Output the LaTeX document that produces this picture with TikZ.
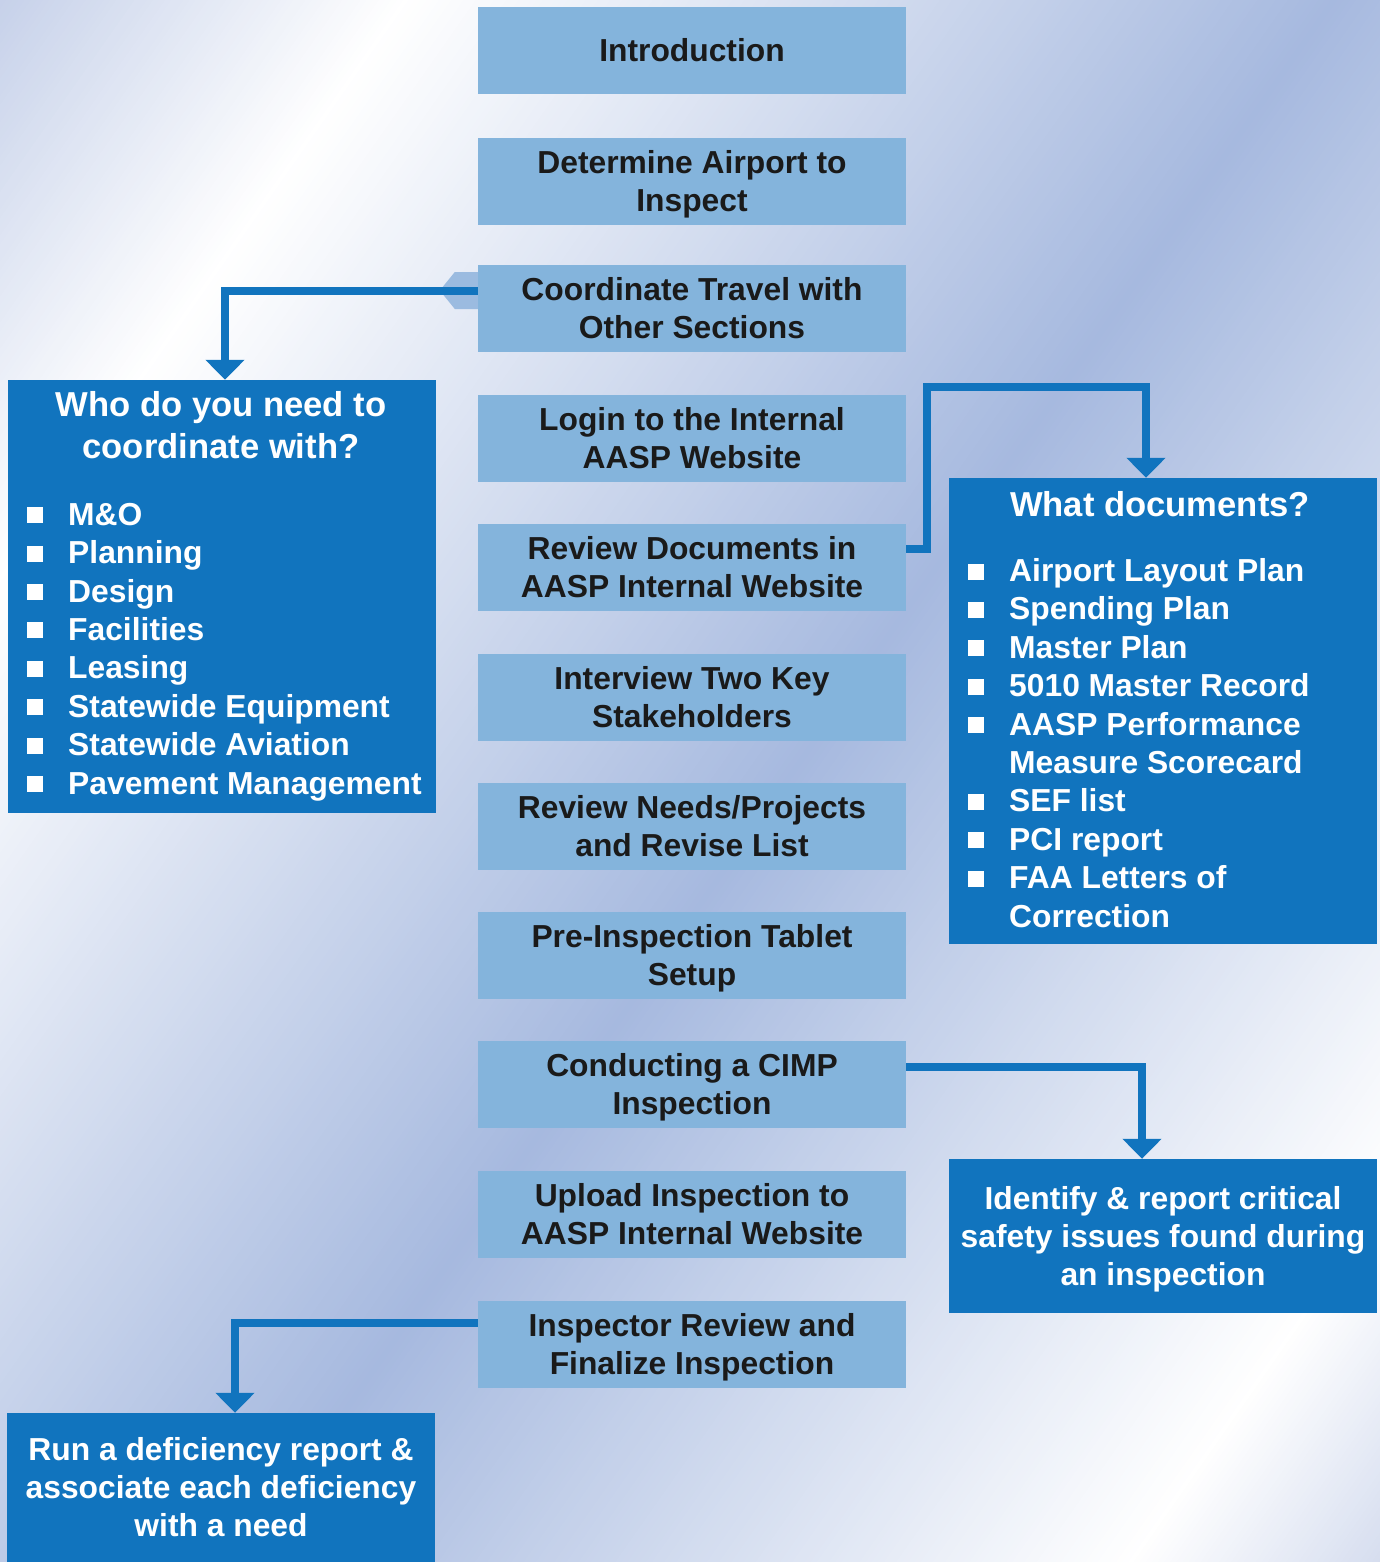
\documentclass[tikz,border=0pt]{standalone}
\usepackage{fontspec}
\setmainfont{Liberation Sans}
\usetikzlibrary{arrows.meta,calc}
\definecolor{bgA}{HTML}{C5D0E9}
\definecolor{bgB}{HTML}{A6B9DF}
\definecolor{bgD}{HTML}{D3DBEE}
\definecolor{lightbox}{HTML}{84B4DC}
\definecolor{dkblue}{HTML}{1174BE}
\definecolor{chev}{HTML}{9BBBE0}
\definecolor{ink}{HTML}{1A1A1A}
\newcommand\ms{\rule[-7.7pt]{0pt}{38pt}}
\newcommand\ls{\rule[-11.5pt]{0pt}{38.4pt}}
\newcommand\ts{\rule[-12.6pt]{0pt}{42pt}}
\newcommand\bul{\makebox[41pt][l]{\raisebox{2pt}{\rule{16pt}{16pt}}}}
\newcommand\nob{\makebox[41pt][l]{}}
\begin{document}
\begin{tikzpicture}[x=1pt,y=-1pt,
  stepbox/.style={fill=lightbox, minimum width=428pt, minimum height=87pt, inner sep=0pt,
    text=ink, font=\fontsize{31.8}{38}\selectfont\bfseries, align=center},
  bluebox/.style={fill=dkblue, minimum width=428pt, inner sep=0pt, text=white,
    font=\fontsize{31.8}{38}\selectfont\bfseries, align=center},
  titletext/.style={inner sep=0pt, text=white, font=\fontsize{34.6}{42}\selectfont\bfseries, align=center},
  listtext/.style={inner sep=0pt, text=white, font=\fontsize{31.8}{38.4}\selectfont\bfseries, align=left},
  conn/.style={draw=dkblue, line width=8pt, line join=miter, -{Triangle[width=38pt,length=20pt]}}
]
\useasboundingbox (0,0) rectangle (1380,1562);
% background
\begin{scope}
\clip (0,0) rectangle (1380,1562);
\begin{scope}[x={(0.819pt,-0.574pt)},y={(0.574pt,0.819pt)}]
\foreach \s [evaluate=\s as \p using {(330-\s)/3.4}] in {-10,-5,...,325}
  {\fill[bgA!\p!white] (\s,-1400) -- (\s+6,-1400) -- (\s+6,900) -- (\s,900) -- cycle;}
\foreach \s [evaluate=\s as \p using {(\s-330)/7.6}] in {330,335,...,1085}
  {\fill[bgB!\p!white] (\s,-1400) -- (\s+6,-1400) -- (\s+6,900) -- (\s,900) -- cycle;}
\foreach \s [evaluate=\s as \p using {(1820-\s)/7.3}] in {1090,1095,...,1815}
  {\fill[bgB!\p!white] (\s,-1400) -- (\s+6,-1400) -- (\s+6,900) -- (\s,900) -- cycle;}
\foreach \s [evaluate=\s as \p using {(\s-1820)/2.2}] in {1820,1825,...,2040}
  {\fill[bgD!\p!white] (\s,-1400) -- (\s+6,-1400) -- (\s+6,900) -- (\s,900) -- cycle;}
\end{scope}
\end{scope}

% centre column
\node[stepbox] (c1) at (692,50.5) {\ms Introduction};
\node[stepbox] (c2) at (692,181.5) {\ms Determine Airport to\\\ms Inspect};
\node[stepbox] (c3) at (692,308.5) {\ms Coordinate Travel with\\\ms Other Sections};
\node[stepbox] (c4) at (692,438.5) {\ms Login to the Internal\\\ms AASP Website};
\node[stepbox] (c5) at (692,567.5) {\ms Review Documents in\\\ms AASP Internal Website};
\node[stepbox] (c6) at (692,697.5) {\ms Interview Two Key\\\ms Stakeholders};
\node[stepbox] (c7) at (692,826.5) {\ms Review Needs/Projects\\\ms and Revise List};
\node[stepbox] (c8) at (692,955.5) {\ms Pre-Inspection Tablet\\\ms Setup};
\node[stepbox] (c9) at (692,1084.5) {\ms Conducting a CIMP\\\ms Inspection};
\node[stepbox] (c10) at (692,1214.5) {\ms Upload Inspection to\\\ms AASP Internal Website};
\node[stepbox] (c11) at (692,1344.5) {\ms Inspector Review and\\\ms Finalize Inspection};

% side boxes
\node[bluebox, minimum height=433pt] (who) at (222,596.5) {};
\node[titletext, anchor=north] (whoT) at (221,387.3) {\ts Who do you need to\\\ts coordinate with?};
\node[listtext, anchor=north west] (whoL) at (27,498.1)
  {\ls\bul M\&O\\\ls\bul Planning\\\ls\bul Design\\\ls\bul Facilities\\\ls\bul Leasing\\\ls\bul Statewide Equipment\\\ls\bul Statewide Aviation\\\ls\bul Pavement Management};

\node[bluebox, minimum height=466pt] (docs) at (1163,711) {};
\node[titletext, anchor=north] (docsT) at (1160,487.3) {\ts What documents?};
\node[listtext, anchor=north west] (docsL) at (968,554.4)
  {\ls\bul Airport Layout Plan\\\ls\bul Spending Plan\\\ls\bul Master Plan\\\ls\bul 5010 Master Record\\\ls\bul AASP Performance\\\ls\nob Measure Scorecard\\\ls\bul SEF list\\\ls\bul PCI report\\\ls\bul FAA Letters of\\\ls\nob Correction};

\node[bluebox, minimum height=154pt] (crit) at (1163,1236) {\ms Identify \& report critical\\\ms safety issues found during\\\ms an inspection};
\node[bluebox, minimum height=149pt] (run) at (221,1487.5) {\ms Run a deficiency report \&\\\ms associate each deficiency\\\ms with a need};

% connectors
\fill[chev] ($(c3.west)+(0,-36.5)$) -- ++(-23,0) -- ++(-15,18.5) -- ++(15,18.5) -- ++(23,0) -- cycle;
\draw[conn] ($(c3.west)+(0,-18)$) -| ($(who.north)+(3,0)$);
\draw[conn] ($(c5.east)+(0,-18.5)$) -- ++(21,0) -- ++(0,-162) -| ($(docs.north)+(-17,0)$);
\draw[conn] ($(c9.east)+(0,-17.5)$) -| ($(crit.north)+(-21,0)$);
\draw[conn] ($(c11.west)+(0,-21.5)$) -| ($(run.north)+(14,0)$);
\end{tikzpicture}
\end{document}
